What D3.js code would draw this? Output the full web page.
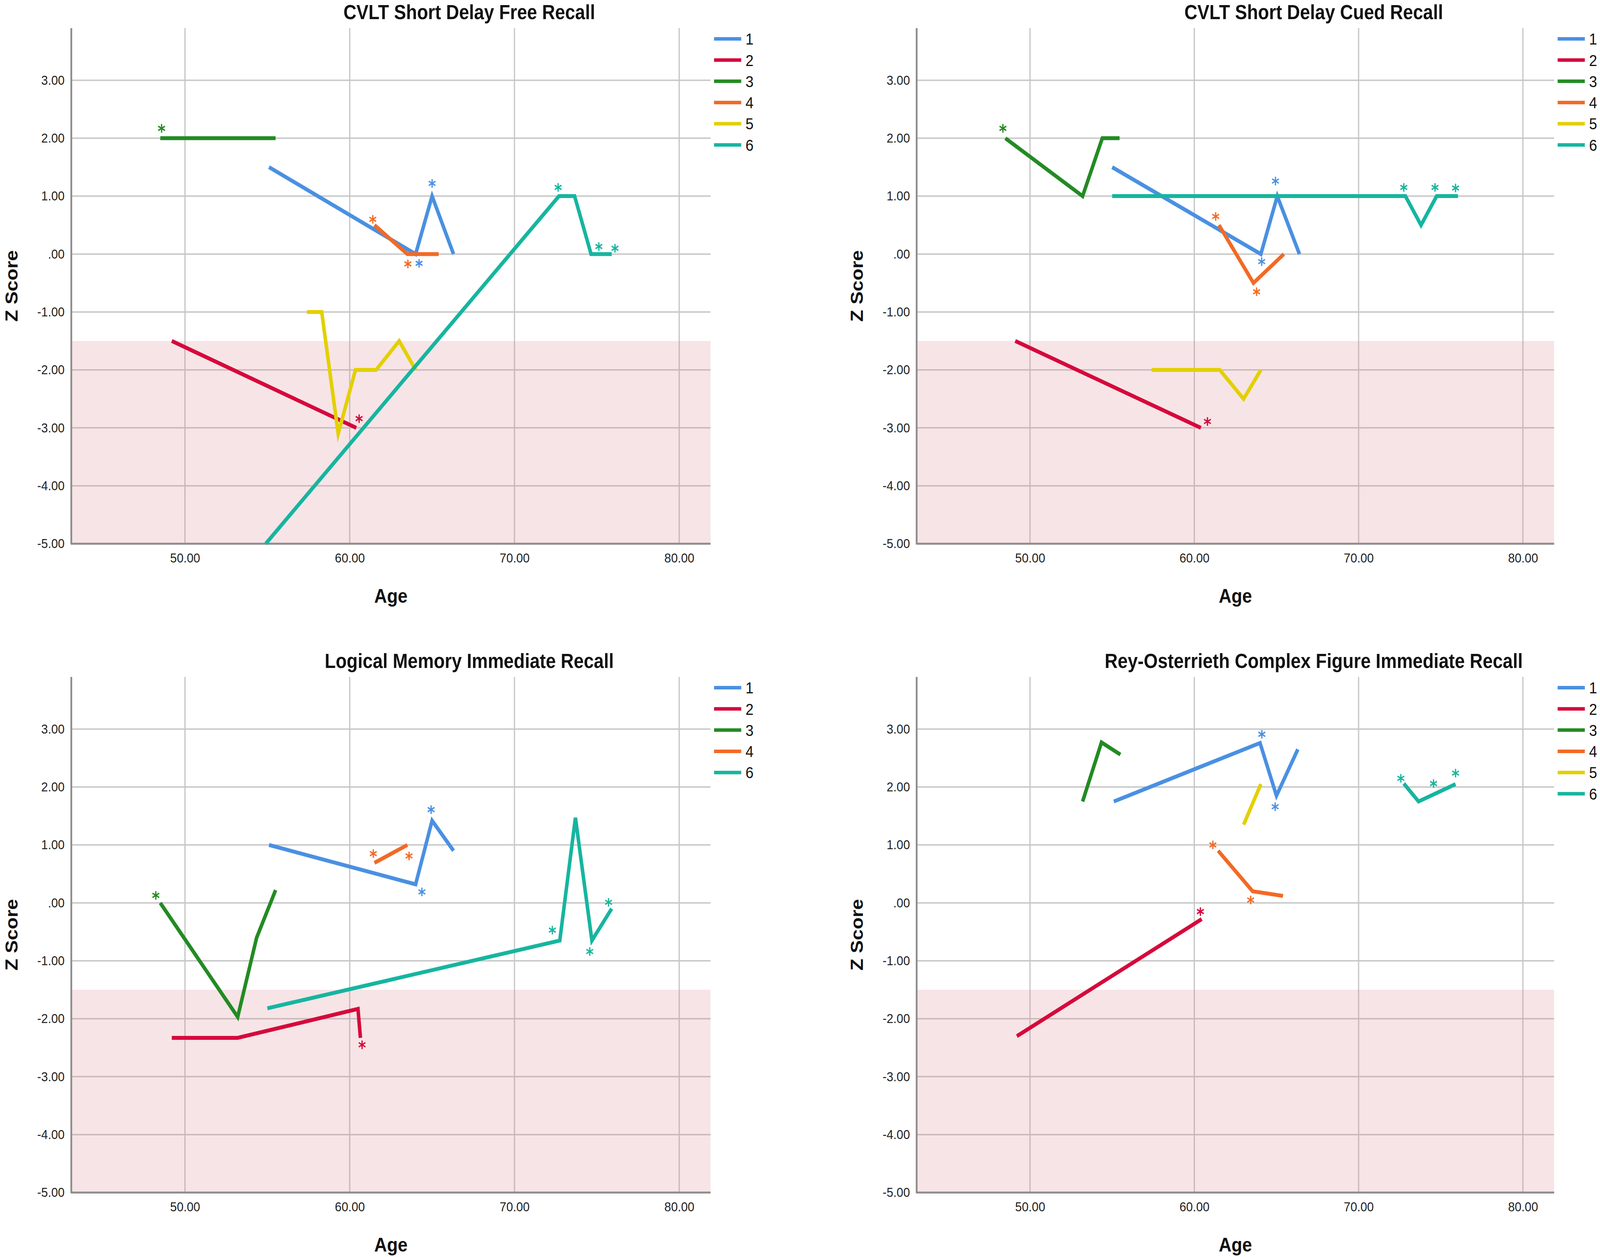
<!DOCTYPE html>
<html>
<head>
<meta charset="utf-8">
<script src="https://cdn.jsdelivr.net/npm/d3@7/dist/d3.min.js"></script>
<style>
  html, body { margin: 0; padding: 0; background: #ffffff; width: 100%; height: 100%; overflow: hidden; }
  svg { display: block; width: 100vw; height: 100vh; }
  text { font-family: "Liberation Sans", Arial, "DejaVu Sans", sans-serif; }
</style>
</head>
<body>
<svg id="chart" viewBox="0 0 4533 3218" preserveAspectRatio="none"></svg>
<script>
// ---------------- data ----------------
const seriesIds = ["1", "2", "3", "4", "5", "6"];
const seriesColors = ["#4a90e2", "#d5093c", "#238b23", "#f26a25", "#e3d000", "#16b5a0"];
const panelTitles = [
  "CVLT Short Delay Free Recall",
  "CVLT Short Delay Cued Recall",
  "Logical Memory Immediate Recall",
  "Rey-Osterrieth Complex Figure Immediate Recall"
];
const xTickValues = [50, 60, 70, 80];
const yTickValues = [3, 2, 1, 0, -1, -2, -3, -4, -5];
const ageDomain = [43.1, 81.9];
const zDomain = [-5, 3.9];
const impairedCutoff = -1.5;
const xAxisTitle = "Age";
const yAxisTitle = "Z Score";

// Panel 1: CVLT Short Delay Free Recall  ([age, z])
const freeS1 = [[55.1, 1.5], [64.0, 0.0], [65.0, 1.0], [66.3, 0.0]];
const freeS2 = [[49.2, -1.5], [60.4, -3.0]];
const freeS3 = [[48.5, 2.0], [55.5, 2.0]];
const freeS4 = [[61.5, 0.5], [63.5, 0.0], [65.4, 0.0]];
const freeS5 = [[57.4, -1.0], [58.3, -1.0], [59.3, -3.1], [60.35, -2.0], [61.6, -2.0], [63.0, -1.5], [64.0, -2.0]];
const freeS6 = [[54.9, -5.0], [72.7, 1.0], [73.65, 1.0], [74.65, 0.0], [75.9, 0.0]];
const freeStars = [["3", 48.58, 2.17], ["1", 65.0, 1.22], ["4", 61.4, 0.6], ["4", 63.53, -0.17], ["1", 64.21, -0.16],
                   ["2", 60.57, -2.84], ["6", 72.65, 1.15], ["6", 75.12, 0.13], ["6", 76.1, 0.1]];

// Panel 2: CVLT Short Delay Cued Recall
const cuedS1 = [[55.0, 1.5], [64.05, 0.0], [65.05, 1.0], [66.4, 0.0]];
const cuedS2 = [[49.1, -1.5], [60.4, -3.0]];
const cuedS3 = [[48.5, 2.0], [53.2, 1.0], [54.4, 2.0], [55.45, 2.0]];
const cuedS4 = [[61.5, 0.5], [63.6, -0.5], [65.45, 0.0]];
const cuedS5 = [[57.4, -2.0], [61.55, -2.0], [63.0, -2.5], [64.05, -2.0]];
const cuedS6 = [[55.0, 1.0], [72.85, 1.0], [73.8, 0.5], [74.75, 1.0], [76.05, 1.0]];
const cuedStars = [["3", 48.35, 2.17], ["1", 64.94, 1.26], ["1", 64.1, -0.13], ["4", 61.3, 0.65], ["4", 63.79, -0.65],
                   ["2", 60.8, -2.89], ["6", 72.75, 1.15], ["6", 74.65, 1.15], ["6", 75.9, 1.14]];

// Panel 3: Logical Memory Immediate Recall
const logicS1 = [[55.1, 1.0], [64.0, 0.32], [65.0, 1.42], [66.3, 0.9]];
const logicS2 = [[49.2, -2.33], [53.2, -2.33], [60.5, -1.83], [60.65, -2.33]];
const logicS3 = [[48.5, 0.0], [53.2, -1.97], [54.35, -0.6], [55.5, 0.22]];
const logicS4 = [[61.5, 0.69], [63.5, 1.0]];
const logicS6 = [[55.0, -1.82], [72.75, -0.65], [73.7, 1.47], [74.7, -0.65], [75.9, -0.1]];
const logicStars = [["3", 48.23, 0.13], ["1", 64.94, 1.61], ["4", 61.43, 0.85], ["4", 63.6, 0.81], ["1", 64.38, 0.19],
                    ["6", 72.3, -0.47], ["6", 74.57, -0.84], ["6", 75.71, 0.01], ["2", 60.75, -2.45]];

// Panel 4: Rey-Osterrieth Complex Figure Immediate Recall
const reyS1 = [[55.1, 1.75], [64.0, 2.76], [65.0, 1.85], [66.3, 2.65]];
const reyS2 = [[49.2, -2.3], [60.45, -0.28]];
const reyS3 = [[53.2, 1.75], [54.35, 2.77], [55.5, 2.56]];
const reyS4 = [[61.45, 0.9], [63.55, 0.2], [65.4, 0.12]];
const reyS5 = [[63.0, 1.35], [64.05, 2.05]];
const reyS6 = [[72.75, 2.06], [73.65, 1.75], [75.9, 2.05]];
const reyStars = [["1", 64.11, 2.91], ["1", 64.92, 1.66], ["4", 61.13, 1.0], ["4", 63.43, 0.05], ["2", 60.37, -0.15],
                  ["6", 72.57, 2.15], ["6", 74.56, 2.06], ["6", 75.9, 2.24]];

const panelSeries = [
  { "1": freeS1, "2": freeS2, "3": freeS3, "4": freeS4, "5": freeS5, "6": freeS6 },
  { "1": cuedS1, "2": cuedS2, "3": cuedS3, "4": cuedS4, "5": cuedS5, "6": cuedS6 },
  { "1": logicS1, "2": logicS2, "3": logicS3, "4": logicS4, "6": logicS6 },
  { "1": reyS1, "2": reyS2, "3": reyS3, "4": reyS4, "5": reyS5, "6": reyS6 }
];
const panelStars = [freeStars, cuedStars, logicStars, reyStars];

// ---------------- layout ----------------
const colLeft = [202, 2597];
const colWidth = [1811, 1806];
const rowTop = [72, 1733];
const plotH = 1320;

const colorOf = d3.scaleOrdinal().domain(seriesIds).range(seriesColors);
const f2 = d3.formatLocale({ decimal: ".", thousands: ",", grouping: [3], currency: ["", ""], minus: "-" }).format(".2f");
const fmt = v => v === 0 ? ".00" : f2(v);

const asterisk = {
  draw(ctx, size) {
    const r = Math.sqrt(size) / 2;
    [90, 30, -30].forEach(a => {
      const t = a * Math.PI / 180;
      ctx.moveTo(-r * Math.cos(t), -r * Math.sin(t));
      ctx.lineTo(r * Math.cos(t), r * Math.sin(t));
    });
  }
};

const svg = d3.select("#chart");

panelTitles.forEach((title, p) => {
  const col = p % 2;
  const left = colLeft[col], top = rowTop[Math.floor(p / 2)];
  const right = left + colWidth[col], bottom = top + plotH;
  const x = d3.scaleLinear().domain(ageDomain).range([left, right]);
  const y = d3.scaleLinear().domain(zDomain).range([bottom, top]);
  const g = svg.append("g");

  // grid lines
  g.selectAll(".vgrid").data(xTickValues).join("line")
    .attr("x1", d => x(d)).attr("x2", d => x(d))
    .attr("y1", top).attr("y2", bottom)
    .attr("stroke", "#c6c6c6").attr("stroke-width", 3.5);
  g.selectAll(".hgrid").data(yTickValues).join("line")
    .attr("x1", left).attr("x2", right)
    .attr("y1", d => y(d)).attr("y2", d => y(d))
    .attr("stroke", "#c6c6c6").attr("stroke-width", 3.5);

  // impaired band
  g.append("rect")
    .attr("x", left).attr("y", y(impairedCutoff))
    .attr("width", right - left).attr("height", y(zDomain[0]) - y(impairedCutoff))
    .attr("fill", "rgb(220,130,140)").attr("fill-opacity", 0.22);

  // axes labels via d3 axes
  const ax = g.append("g").attr("transform", `translate(0,${bottom})`)
    .call(d3.axisBottom(x).tickValues(xTickValues).tickFormat(fmt).tickSize(0).tickPadding(24));
  ax.select(".domain").remove();
  ax.selectAll("text").attr("font-size", 34).attr("fill", "#222")
    .attr("font-family", "Liberation Sans, Arial, sans-serif");
  const ay = g.append("g").attr("transform", `translate(${left},0)`)
    .call(d3.axisLeft(y).tickValues(yTickValues).tickFormat(fmt).tickSize(0).tickPadding(19));
  ay.select(".domain").remove();
  ay.selectAll("text").attr("font-size", 34).attr("fill", "#222")
    .attr("font-family", "Liberation Sans, Arial, sans-serif");

  // axis lines
  g.append("line").attr("x1", left).attr("x2", left).attr("y1", top).attr("y2", bottom + 2)
    .attr("stroke", "#8c8c8c").attr("stroke-width", 5);
  g.append("line").attr("x1", left).attr("x2", right).attr("y1", bottom).attr("y2", bottom)
    .attr("stroke", "#8c8c8c").attr("stroke-width", 5);

  // series lines
  const line = d3.line().x(d => x(d[0])).y(d => y(d[1]));
  const series = panelSeries[p];
  const ids = seriesIds.filter(id => series[id]);
  g.selectAll(".series").data(ids).join("path")
    .attr("d", id => line(series[id]))
    .attr("fill", "none")
    .attr("stroke", id => colorOf(id))
    .attr("stroke-width", 10)
    .attr("stroke-linejoin", "miter")
    .attr("stroke-miterlimit", 6);

  // star markers
  const sym = d3.symbol().type(asterisk).size(22 * 22);
  g.selectAll(".star").data(panelStars[p]).join("path")
    .attr("transform", d => `translate(${x(d[1])},${y(d[2])})`)
    .attr("d", sym)
    .attr("fill", "none")
    .attr("stroke", d => colorOf(d[0]))
    .attr("stroke-width", 3.6);

  // legend
  const lg = g.selectAll(".legend").data(ids).join("g")
    .attr("transform", (d, i) => `translate(${right + 10},${top + 27.5 + i * 54.3})`);
  lg.append("line").attr("x1", 0).attr("x2", 77).attr("y1", 0).attr("y2", 0)
    .attr("stroke", d => colorOf(d)).attr("stroke-width", 9);
  lg.append("text").attr("x", 89).attr("y", 0).attr("dy", "0.36em")
    .attr("font-size", 41).attr("fill", "#111").text(d => d);

  // titles
  g.append("text").attr("x", (left + right) / 2 + 222).attr("y", top - 41).attr("dy", "0.36em")
    .attr("text-anchor", "middle").attr("font-size", 51).attr("font-weight", "bold").attr("fill", "#111")
    .text(title);
  g.append("text").attr("x", (left + right) / 2).attr("y", bottom + 133).attr("dy", "0.36em")
    .attr("text-anchor", "middle").attr("font-size", 50).attr("font-weight", "bold").attr("fill", "#111")
    .text(xAxisTitle);
  g.append("text").attr("transform", `translate(${left - 170},${(top + bottom) / 2}) rotate(-90)`)
    .attr("dy", "0.36em")
    .attr("text-anchor", "middle").attr("font-size", 50).attr("font-weight", "bold").attr("fill", "#111")
    .text(yAxisTitle);
});
</script>
</body>
</html>
